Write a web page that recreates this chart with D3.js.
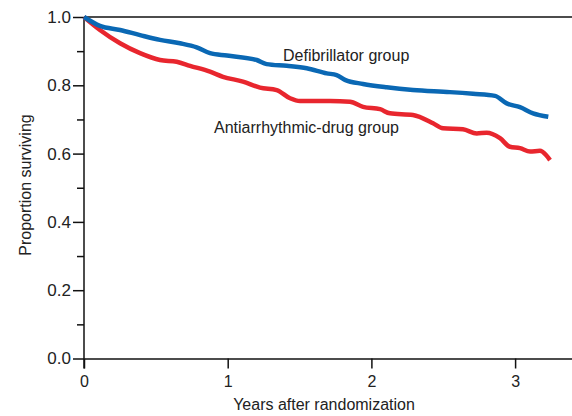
<!DOCTYPE html>
<html>
<head>
<meta charset="utf-8">
<script src="https://cdn.jsdelivr.net/npm/d3@7"></script>
<style>
    body { margin: 0; background: #fff; }
    text { font-family: "Liberation Sans", Arial, sans-serif; fill: #222; }
</style>
</head>
<body>
<svg id="chart" width="572" height="416"></svg>
<script>
// Defibrillator group (years, proportion surviving)
var defibYears = [0, 0.111, 0.251, 0.390, 0.529, 0.668, 0.784, 0.877, 0.995, 1.202, 1.271, 1.411, 1.550, 1.689, 1.758, 1.816, 1.942, 2.106, 2.289, 2.547, 2.707, 2.860, 2.942, 3.034, 3.125, 3.231];
var defibSurv = [1.0, 0.974, 0.962, 0.947, 0.933, 0.923, 0.911, 0.894, 0.887, 0.874, 0.862, 0.857, 0.850, 0.835, 0.830, 0.816, 0.804, 0.794, 0.786, 0.780, 0.775, 0.769, 0.747, 0.736, 0.718, 0.708];

// Antiarrhythmic-drug group
var drugYears = [0, 0.111, 0.251, 0.390, 0.529, 0.645, 0.738, 0.877, 0.967, 1.106, 1.225, 1.341, 1.434, 1.503, 1.712, 1.851, 1.942, 2.060, 2.129, 2.289, 2.429, 2.498, 2.637, 2.733, 2.802, 2.895, 2.964, 3.034, 3.104, 3.173, 3.215, 3.243];
var drugSurv = [1.0, 0.962, 0.923, 0.894, 0.874, 0.869, 0.857, 0.840, 0.825, 0.811, 0.793, 0.786, 0.762, 0.754, 0.754, 0.752, 0.737, 0.730, 0.718, 0.713, 0.689, 0.674, 0.671, 0.659, 0.661, 0.645, 0.620, 0.616, 0.606, 0.608, 0.596, 0.581];

var xTicks = [0, 1, 2, 3];
var yMajorTicks = [0, 0.2, 0.4, 0.6, 0.8, 1.0];
var yMinorTicks = [0.1, 0.3, 0.5, 0.7, 0.9];

var plotLeft = 84, plotRight = 572, plotTop = 17, plotBottom = 358.5;
var svg = d3.select("#chart");

var x = d3.scaleLinear().domain([0, 3.396]).range([plotLeft, plotRight]);
var y = d3.scaleLinear().domain([0, 1]).range([plotBottom, plotTop]);

// frame top line
svg.append("line")
    .attr("x1", plotLeft).attr("x2", plotRight)
    .attr("y1", plotTop).attr("y2", plotTop)
    .attr("stroke", "#111").attr("stroke-width", 1.5);

// x axis
var xAxis = svg.append("g")
    .attr("transform", "translate(0," + plotBottom + ")")
    .call(d3.axisBottom(x).tickValues(xTicks).tickFormat(d3.format("d")).tickSize(10).tickSizeOuter(0));
xAxis.select(".domain").attr("stroke", "#111").attr("stroke-width", 1.5);
xAxis.selectAll(".tick line").attr("stroke", "#111").attr("stroke-width", 1.5);
xAxis.selectAll(".tick text").attr("font-size", 16).attr("dy", "0.95em").attr("fill", "#222");

// y axis, minor ticks first
var yMinor = svg.append("g")
    .attr("transform", "translate(" + plotLeft + ",0)")
    .call(d3.axisLeft(y).tickValues(yMinorTicks).tickFormat("").tickSize(7).tickSizeOuter(0));
yMinor.select(".domain").remove();
yMinor.selectAll(".tick line").attr("stroke", "#111").attr("stroke-width", 1.5);

var yAxis = svg.append("g")
    .attr("transform", "translate(" + plotLeft + ",0)")
    .call(d3.axisLeft(y).tickValues(yMajorTicks).tickFormat(d3.format(".1f")).tickSize(11).tickSizeOuter(0));
yAxis.select(".domain").attr("stroke", "#111").attr("stroke-width", 1.5)
    .attr("d", "M0," + (plotBottom + 10) + "V" + plotTop);
yAxis.selectAll(".tick line").attr("stroke", "#111").attr("stroke-width", 1.5);
yAxis.selectAll(".tick text").attr("font-size", 17).attr("x", -13).attr("fill", "#222");

// curves
var line = d3.line()
    .x(function(d) { return x(d[0]); })
    .y(function(d) { return y(d[1]); })
    .curve(d3.curveMonotoneX);

var drugData = d3.zip(drugYears, drugSurv);
var defibData = d3.zip(defibYears, defibSurv);

svg.append("path")
    .datum(drugData)
    .attr("d", line)
    .attr("fill", "none")
    .attr("stroke", "#e8262e")
    .attr("stroke-width", 4.5)
    .attr("stroke-linejoin", "round");

svg.append("path")
    .datum(defibData)
    .attr("d", line)
    .attr("fill", "none")
    .attr("stroke", "#0a68b4")
    .attr("stroke-width", 4.5)
    .attr("stroke-linejoin", "round");

// labels
svg.append("text")
    .text("Defibrillator group")
    .attr("x", x(1.385))
    .attr("y", y(0.871))
    .attr("font-size", 16);

svg.append("text")
    .text("Antiarrhythmic-drug group")
    .attr("x", x(0.905))
    .attr("y", y(0.661))
    .attr("font-size", 16);

svg.append("text")
    .text("Years after randomization")
    .attr("x", 324)
    .attr("y", 410)
    .attr("text-anchor", "middle")
    .attr("font-size", 16);

svg.append("text")
    .text("Proportion surviving")
    .attr("transform", "translate(31," + 185 + ") rotate(-90)")
    .attr("text-anchor", "middle")
    .attr("font-size", 16);
</script>
</body>
</html>
